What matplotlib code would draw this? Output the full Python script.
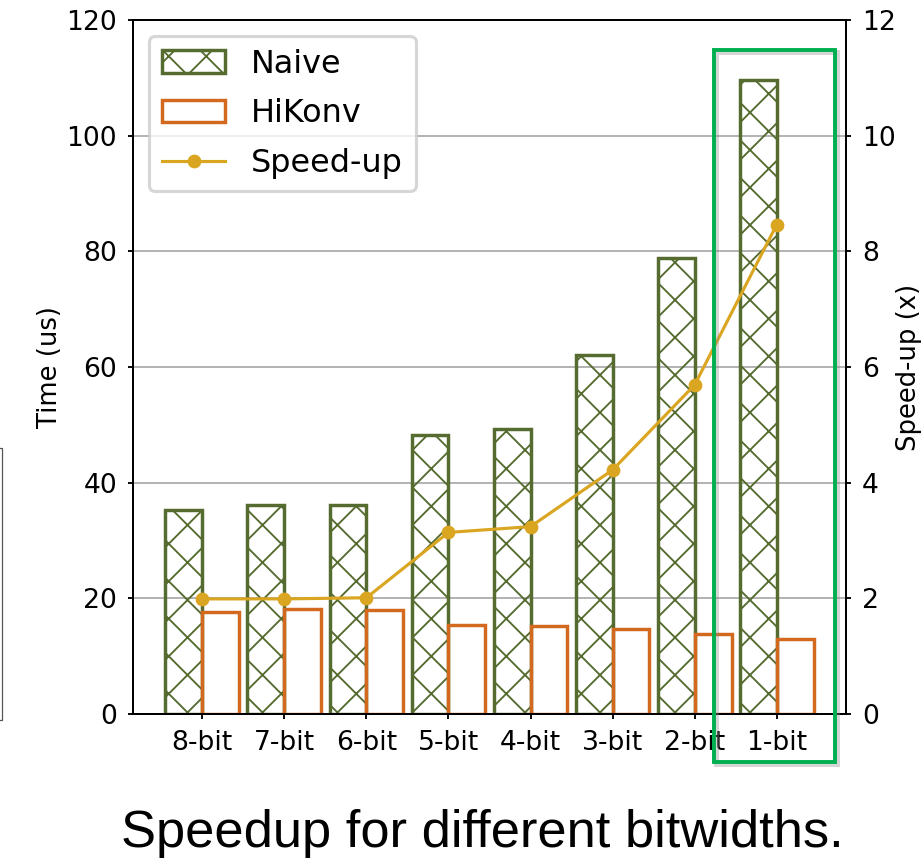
import matplotlib
matplotlib.use("Agg")
import matplotlib.pyplot as plt
import numpy as np
from matplotlib.patches import Rectangle
from matplotlib.lines import Line2D

categories = ["8-bit", "7-bit", "6-bit", "5-bit", "4-bit", "3-bit", "2-bit", "1-bit"]
naive = [35.3, 36.1, 36.2, 48.3, 49.3, 62.0, 78.9, 109.6]
hikonv = [17.7, 18.1, 18.0, 15.4, 15.2, 14.7, 13.8, 13.0]
speedup = [1.99, 1.99, 2.01, 3.14, 3.24, 4.22, 5.69, 8.46]

DPI = 225
plt.rcParams['hatch.linewidth'] = 0.6
fig = plt.figure(figsize=(924 / DPI, 858 / DPI), dpi=DPI)
ax = fig.add_axes([133 / 924, 1 - 714 / 858, (846 - 133) / 924, (714 - 20) / 858])
ax2 = ax.twinx()

x = np.arange(len(categories))
w = 0.45
green = "#556B2F"
orange = "#D2691E"
gold = "#DAA520"

b1 = ax.bar(x - w / 2, naive, w, facecolor="none", edgecolor=green, hatch="xx", linewidth=1.1, label="Naive", zorder=2)
b2 = ax.bar(x + w / 2, hikonv, w, facecolor="none", edgecolor=orange, linewidth=1.1, label="HiKonv", zorder=2)
l1, = ax2.plot(x, speedup, color=gold, marker="o", markersize=3.4, linewidth=1.0, label="Speed-up")

ax.set_ylim(0, 120)
ax.set_yticks(np.arange(0, 121, 20))
ax2.set_ylim(0, 12)
ax2.set_yticks(np.arange(0, 13, 2))
ax.set_xticks(x)
ax.set_xticklabels(categories)
ax.yaxis.grid(True, color="#b0b0b0", linewidth=0.6, zorder=0)
ax.set_axisbelow(True)

for a in (ax, ax2):
    a.tick_params(labelsize=8.5, length=1.6, width=0.6)
    for s in a.spines.values():
        s.set_linewidth(0.6)

ax.set_ylabel("Time (us)", fontsize=8.3, labelpad=1)
ax2.set_ylabel("Speed-up (x)", fontsize=8.3, labelpad=0)

ax2.legend([b1, b2, l1], ["Naive", "HiKonv", "Speed-up"], loc="upper left", fontsize=10.2,
           labelspacing=0.58)

# highlight box around 1-bit group (with soft shadow)
x0, y0 = 713.5 / 924, 1 - 761.5 / 858
rw, rh = (834.5 - 713.5) / 924, (761.5 - 49.5) / 858
shadow = Rectangle((x0 + 2 / 924, y0 - 2 / 858), rw, rh, transform=fig.transFigure, fill=False,
                   edgecolor="#888888", alpha=0.35, linewidth=1.6, zorder=9)
rect = Rectangle((x0, y0), rw, rh, transform=fig.transFigure, fill=False,
                 edgecolor="#00B050", linewidth=1.25, zorder=10)
fig.patches.append(shadow)
fig.patches.append(rect)

# fragment of a neighbouring box at left edge
fig.lines.append(Line2D([0, 2 / 924, 2 / 924, 0], [1 - 448 / 858, 1 - 448 / 858, 1 - 720 / 858, 1 - 720 / 858],
                        transform=fig.transFigure, color="#555555", linewidth=0.4))

fig.text(482.5 / 924, 1 - 847 / 858, "Speedup for different bitwidths.", family="Liberation Sans",
         fontsize=16.8, ha="center", va="baseline")

fig.savefig("out.png", dpi=DPI)
